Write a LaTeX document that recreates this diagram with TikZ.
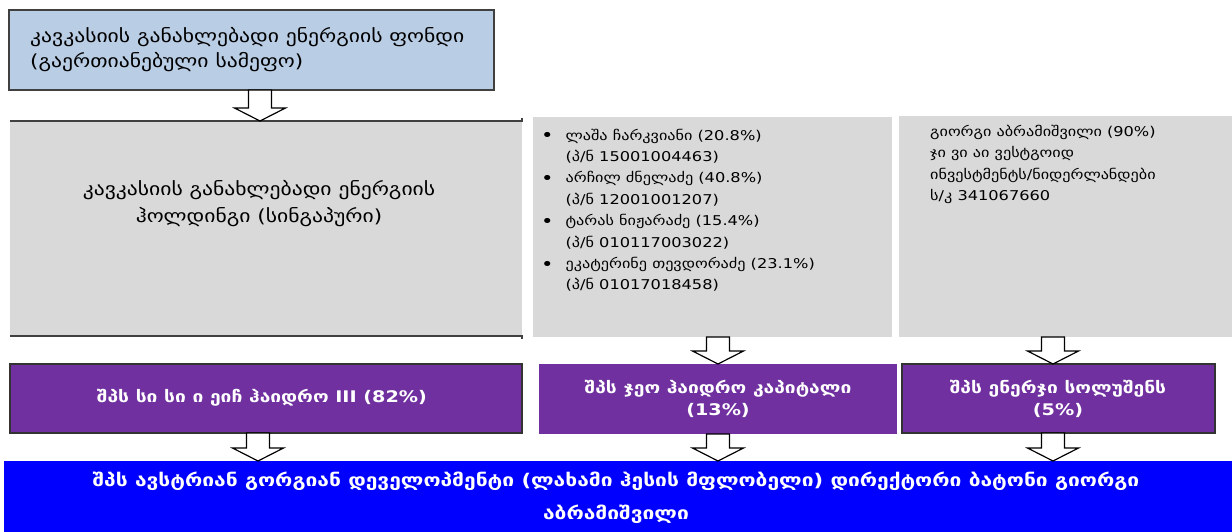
\documentclass[tikz,border=0pt]{standalone}
\usepackage{fontspec}
\setmainfont{DejaVu Sans}[FakeStretch=1.2]
\usetikzlibrary{calc}
\definecolor{fundblue}{HTML}{B9CDE5}
\definecolor{boxgray}{HTML}{D9D9D9}
\definecolor{compurple}{HTML}{7030A0}
\definecolor{ownblue}{HTML}{0000FF}
\definecolor{edgegray}{HTML}{404040}
\newcommand\mybullet{\raisebox{-1.5pt}{\scalebox{1.3}{•}}}
\tikzset{
  box/.style={anchor=north west, inner sep=0pt, outer sep=0pt},
  fundbox/.style={box, fill=fundblue, draw=edgegray, line width=1.2pt},
  graybox/.style={box, fill=boxgray},
  purplebox/.style={box, fill=compurple},
  shadowed/.style={draw=black!80, line width=1.2pt},
  ownerbox/.style={box, fill=ownblue},
  normtext/.style={font=\fontsize{18}{25}\selectfont, text=black, inner sep=0pt},
  smalltext/.style={font=\fontsize{13.5}{21.4}\selectfont, text=black, inner sep=0pt},
  whitebold/.style={font=\bfseries\fontsize{16}{22}\selectfont, text=white, inner sep=0pt, align=center},
  bigwhite/.style={font=\bfseries\fontsize{17.5}{33}\selectfont, text=white, inner sep=0pt, align=center},
  blockarrow/.style={draw=black, fill=white, line width=1.2pt, line join=miter},
}
% #1 = x position, #2 = source node, #3 = target node
\newcommand\blockarr[3]{%
  \draw[blockarrow] let \p1=(#2.south), \p2=(#3.north) in
    ({#1pt-11.5pt},\y1) -- ({#1pt+11.5pt},\y1) -- ({#1pt+11.5pt},{\y2+13pt}) --
    ({#1pt+25.5pt},{\y2+13pt}) -- ({#1pt},\y2) -- ({#1pt-25.5pt},{\y2+13pt}) --
    ({#1pt-11.5pt},{\y2+13pt}) -- cycle;}
\begin{document}
\begin{tikzpicture}[x=1pt,y=-1pt]
\useasboundingbox (0,0) rectangle (1232,532);
% boxes
\node[fundbox, minimum width=485pt, minimum height=80pt] (fund) at (9,10) {};
\node[graybox, minimum width=512pt, minimum height=215pt] (hold) at (10,121) {};
\draw[edgegray, line width=1.2pt] (hold.north west) -- (hold.north east) -- ++(0,-3);
\draw[edgegray, line width=1.2pt] (hold.south west) -- (hold.south east) -- ++(0,3);
\node[graybox, minimum width=359pt, minimum height=220pt] (people) at (533,117) {};
\node[graybox, minimum width=333pt, minimum height=221pt] (gio) at (899,116) {};
\node[purplebox, shadowed, minimum width=512pt, minimum height=69pt] (cc) at (10,364) {};
\node[purplebox, minimum width=358pt, minimum height=70pt] (geo) at (539,364) {};
\node[purplebox, shadowed, minimum width=313pt, minimum height=69pt] (en) at (902,364) {};
\node[ownerbox, minimum width=1228pt, minimum height=72pt] (agd) at (4,461) {};
% texts
\node[normtext, anchor=west, align=left] (fundlbl) at (30,50) {კავკასიის განახლებადი ენერგიის ფონდი\\(გაერთიანებული სამეფო)};
\node[normtext, align=center, font=\fontsize{18}{27}\selectfont] (holdlbl) at (259,204) {კავკასიის განახლებადი ენერგიის\\ჰოლდინგი (სინგაპური)};
\node[smalltext, anchor=north west, align=left] (peoplelbl) at (541,125) {%
\begin{tabular}{@{}l@{\hspace{12pt}}l@{}}
\mybullet&ლაშა ჩარკვიანი (20.8\%)\\&(პ/ნ 15001004463)\\
\mybullet&არჩილ ძნელაძე (40.8\%)\\&(პ/ნ 12001001207)\\
\mybullet&ტარას ნიჟარაძე (15.4\%)\\&(პ/ნ 010117003022)\\
\mybullet&ეკატერინე თევდორაძე (23.1\%)\\&(პ/ნ 01017018458)
\end{tabular}};
\node[smalltext, anchor=north west, align=left] (giolbl) at (930,125) {გიორგი აბრამიშვილი (90\%)\\ჯი ვი აი ვესტგოიდ\\ინვესტმენტს/ნიდერლანდები\\ს/კ 341067660};
\node[whitebold] (cclbl) at (262,398) {შპს სი სი ი ეიჩ ჰაიდრო III (82\%)};
\node[whitebold] (geolbl) at (718,399) {შპს ჯეო ჰაიდრო კაპიტალი\\(13\%)};
\node[whitebold] (enlbl) at (1058,399) {შპს ენერჯი სოლუშენს\\(5\%)};
\node[bigwhite, anchor=north] (agdlbl) at (616,472) {შპს ავსტრიან გორგიან დეველოპმენტი (ლახამი ჰესის მფლობელი) დირექტორი ბატონი გიორგი\\აბრამიშვილი};
% arrows
\blockarr{260}{fund}{hold}
\blockarr{718}{people}{geo}
\blockarr{1053}{gio}{en}
\blockarr{258}{cc}{agd}
\blockarr{718}{geo}{agd}
\blockarr{1053}{en}{agd}
\end{tikzpicture}
\end{document}
